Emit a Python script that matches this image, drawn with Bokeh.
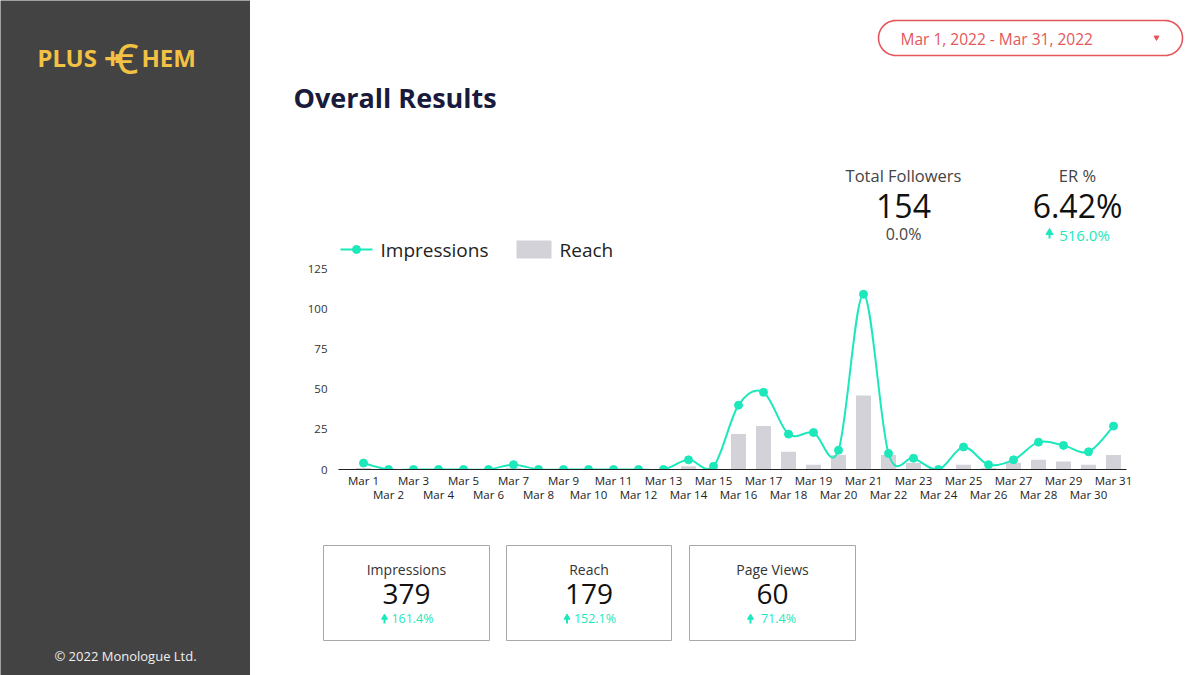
from bokeh.plotting import figure
from bokeh.layouts import row, column
from bokeh.models import Range1d, FixedTicker, LinearAxis
from bokeh.core.properties import value
from bokeh.embed import file_html
from bokeh.resources import INLINE
import numpy as np

# ---- data -------------------------------------------------------------
dates = [f"Mar {d}" for d in range(1, 32)]
impressions = [4, 0, 0, 0, 0, 0, 3, 0, 0, 0, 0, 0, 0, 6, 2, 40,
               48, 22, 23, 12, 109, 10, 7, 0, 14, 3, 6, 17, 15, 11, 27]
reach = [1, 0, 0, 0, 0, 0, 1, 0, 0, 0, 0, 0, 0, 2, 0, 22,
         27, 11, 3, 9, 46, 9, 4, 0, 3, 1, 4, 6, 5, 3, 9]
y_ticks = [0, 25, 50, 75, 100, 125]

date_span = "Mar 1, 2022 - Mar 31, 2022"
headline_labels = ["Total Followers", "ER %"]
headline_values = ["154", "6.42%"]
headline_changes = ["0.0%", "516.0%"]
headline_up = [False, True]

box_labels = ["Impressions", "Reach", "Page Views"]
box_values = ["379", "179", "60"]
box_changes = ["161.4%", "152.1%", "71.4%"]

# ---- styling ----------------------------------------------------------
FONT = "Open Sans"
TEAL = "#1de8bb"
BAR = "#d4d2d9"
SIDEBAR = "#434343"
GOLD = "#f3c244"
NAVY = "#1a1a3c"
RED = "#e5565a"


def canvas(x0, x1, y0, y1):
    p = figure(width=int(x1 - x0), height=int(y1 - y0),
               x_range=Range1d(x0, x1), y_range=Range1d(y1, y0),
               output_backend="svg", toolbar_location=None,
               min_border=0, x_axis_type=None, y_axis_type=None)
    p.outline_line_color = None
    p.frame_align = False
    return p


def txt(p, x, y, s, size, color, align="center", style="normal", font=FONT):
    p.text(x=[x], y=[y], text=[s], text_font=value(font),
           text_font_size=size, text_color=color, text_align=align,
           text_baseline="middle", text_font_style=style)


def up_arrow(p, x, y, size=7):
    # small filled arrow: triangular head over a short stem
    p.segment(x0=[x], y0=[y - 1], x1=[x], y1=[y + 4],
              line_color=TEAL, line_width=2)
    p.scatter([x], [y - 2], marker="triangle", size=size,
              fill_color=TEAL, line_color=TEAL)


# ---- sidebar ----------------------------------------------------------
side = canvas(0, 250, 0, 675)
side.background_fill_color = SIDEBAR
side.border_fill_color = SIDEBAR
txt(side, 37, 57, "PLUS", "24px", GOLD, align="left", style="bold", font="Noto Sans")
txt(side, 112, 57, "+", "30px", GOLD, style="bold", font="Noto Sans")
txt(side, 126, 57, "€", "42px", GOLD, font="Noto Sans")
txt(side, 141, 57, "HEM", "24px", GOLD, align="left", style="bold", font="Noto Sans")
txt(side, 125, 655, "© 2022 Monologue Ltd.", "13px", "#f0f0f0")

# ---- header -----------------------------------------------------------
head = canvas(250, 1200, 0, 262)

# date range pill
r = 17.5
cy = 37.5
xl, xr = 878 + r, 1182 - r
ang1 = np.linspace(np.pi / 2, 3 * np.pi / 2, 30)
ang2 = np.linspace(-np.pi / 2, np.pi / 2, 30)
px = np.concatenate([xl + r * np.cos(ang1), xr + r * np.cos(ang2), [xl]])
py = np.concatenate([cy - r * np.sin(ang1), cy - r * np.sin(ang2), [cy - r]])
head.line(px, py, line_color=RED, line_width=1.6)
txt(head, 900, 38, date_span, "15.5px", RED, align="left")
head.scatter([1156], [37], marker="inverted_triangle", size=5,
             fill_color=RED, line_color=RED)

txt(head, 293, 97, "Overall Results", "27px", NAVY, align="left", style="bold")

for cx, lab, val, chg, up in zip([903, 1077], headline_labels, headline_values,
                                 headline_changes, headline_up):
    txt(head, cx, 175, lab, "16.5px", "#444444")
    txt(head, cx, 205, val, "32px", "#111111")
    if up:
        txt(head, cx + 7, 234, chg, "15px", TEAL)
        up_arrow(head, cx - 28, 234)
    else:
        txt(head, cx, 233, chg, "16px", "#444444")

# legend
head.line([340, 372], [249, 249], line_color=TEAL, line_width=2)
head.scatter([356], [249], size=8, fill_color=TEAL, line_color=TEAL)
txt(head, 380, 249, "Impressions", "19px", "#222222", align="left")
head.quad(left=[516], right=[551], top=[240], bottom=[258],
          fill_color=BAR, line_color=None)
txt(head, 559, 249, "Reach", "19px", "#222222", align="left")

# ---- chart ------------------------------------------------------------
days = np.arange(1, len(dates) + 1)
chart = figure(width=950, height=248, x_range=Range1d(0, 31.52),
               y_range=Range1d(0, 125), output_backend="svg",
               toolbar_location=None, min_border_left=88, min_border_right=74,
               min_border_top=6, min_border_bottom=41)
chart.outline_line_color = None
chart.grid.visible = False
chart.frame_align = False

chart.vbar(x=days, top=reach, width=0.6, fill_color=BAR, line_color=None)

# smooth curve through the impressions points (Catmull-Rom as cubic Beziers)
yv = np.array(impressions, dtype=float)
xv = days.astype(float)
n = len(yv)
i = np.arange(n - 1)
im1 = np.clip(i - 1, 0, n - 1)
ip2 = np.clip(i + 2, 0, n - 1)
chart.bezier(x0=xv[i], y0=yv[i], x1=xv[i + 1], y1=yv[i + 1],
             cx0=xv[i] + (xv[i + 1] - xv[im1]) / 6,
             cy0=yv[i] + (yv[i + 1] - yv[im1]) / 6,
             cx1=xv[i + 1] - (xv[ip2] - xv[i]) / 6,
             cy1=yv[i + 1] - (yv[ip2] - yv[i]) / 6,
             line_color=TEAL, line_width=2)
chart.scatter(days, impressions, size=8, fill_color=TEAL, line_color=TEAL)

overrides = {int(d): lbl for d, lbl in zip(days, dates)}

yax = chart.yaxis[0]
yax.ticker = FixedTicker(ticks=y_ticks)
yax.axis_line_color = None
yax.major_tick_line_color = None
yax.major_tick_out = 0
yax.minor_tick_line_color = None
yax.major_label_standoff = 11
yax.major_label_text_font = FONT
yax.major_label_text_font_size = "11.5px"
yax.major_label_text_color = "#333333"


def style_x(ax, standoff):
    ax.major_tick_line_color = None
    ax.major_tick_out = 0
    ax.major_tick_in = 0
    ax.minor_tick_line_color = None
    ax.minor_tick_out = 0
    ax.major_label_standoff = standoff
    ax.major_label_text_font = FONT
    ax.major_label_text_font_size = "11.5px"
    ax.major_label_text_color = "#222222"


xa = chart.xaxis[0]
xa.ticker = FixedTicker(ticks=[int(d) for d in days[::2]])
xa.major_label_overrides = overrides
xa.axis_line_color = "#222222"
xa.axis_line_width = 1
style_x(xa, 3)

xb = LinearAxis(ticker=FixedTicker(ticks=[int(d) for d in days[1::2]]),
                major_label_overrides=overrides)
xb.axis_line_color = None
style_x(xb, -4)
chart.add_layout(xb, "below")

# ---- bottom scorecards ------------------------------------------------
bottom = canvas(250, 1200, 510, 675)
lefts = [323, 506, 689]
rights = [489, 671, 855]
bottom.quad(left=lefts, right=rights, top=[545] * 3, bottom=[640] * 3,
            fill_color=None, line_color="#a8a8a8", line_width=1)
for l, rr, lab, val, chg in zip(lefts, rights, box_labels, box_values, box_changes):
    cx = (l + rr) / 2
    txt(bottom, cx, 569, lab, "14px", "#333333")
    txt(bottom, cx, 593, val, "28px", "#111111")
    txt(bottom, cx + 6, 618, chg, "12.5px", TEAL)
    up_arrow(bottom, cx - 22, 619, size=6)

layout = row(side, column(head, chart, bottom))
open("out.html", "w").write(file_html(layout, INLINE))
